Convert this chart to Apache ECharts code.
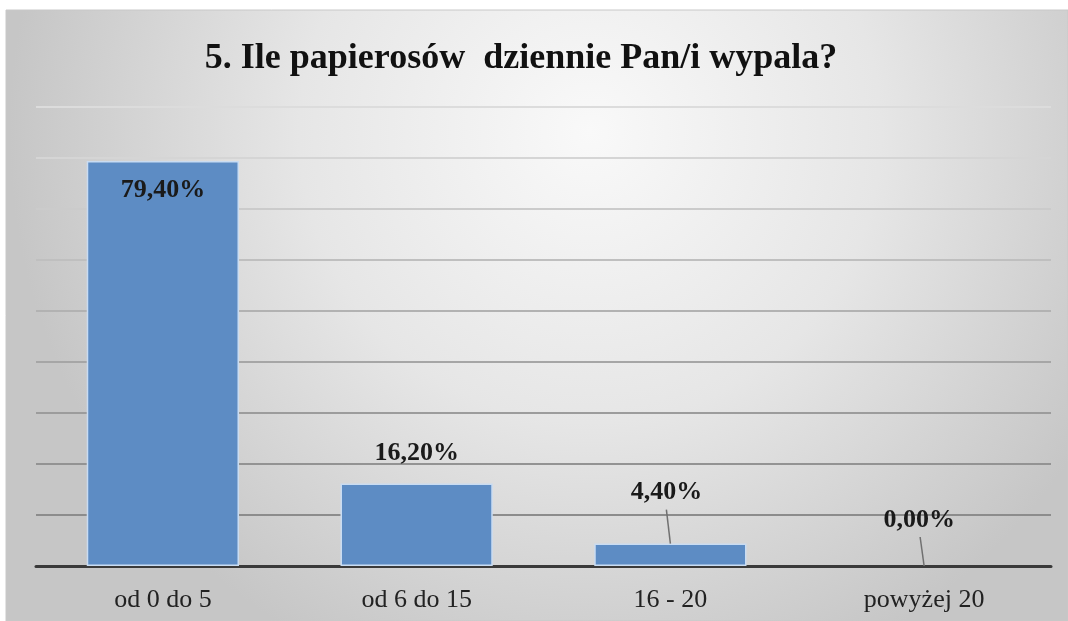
<!DOCTYPE html>
<html>
<head>
<meta charset="utf-8">
<script src="https://cdn.jsdelivr.net/npm/echarts@6/dist/echarts.min.js"></script>
<style>
html,body{margin:0;padding:0;background:#fff;}
#chart{width:1068px;height:621px;}
</style>
</head>
<body>
<div id="chart"></div>
<script>
const titleText = '5. Ile papierosów  dziennie Pan/i wypala?';
const categories = ['od 0 do 5', 'od 6 do 15', '16 - 20', 'powyżej 20'];
const values = [79.4, 16.2, 4.4, 0.0];
const valueLabels = ['79,40%', '16,20%', '4,40%', '0,00%'];
const yMin = 0, yMax = 90, yInterval = 10;

const serif = '"Liberation Serif", "DejaVu Serif", serif';
const labelBase = {show: true, fontFamily: serif, fontWeight: 'bold', fontSize: 26, lineHeight: 26, color: '#1a1a1a'};
const labelCfg = [
  {position: 'insideTop', distance: 16},
  {position: 'top', distance: 17},
  {position: 'top', distance: 38, offset: [-4, 0]},
  {position: 'top', distance: 33, offset: [-5, 0]}
];
// leader-line styling: [pixel rise, pixel x shift]
const leaderStyle = {2: [34, -4], 3: [29, -4]};

const chart = echarts.init(document.getElementById('chart'), null, {renderer: 'canvas'});
chart.setOption({
  animation: false,
  graphic: [{
    type: 'rect', z: -10, silent: true,
    shape: {x: 6, y: 10, width: 1062, height: 611},
    style: {
      fill: {type: 'radial', x: 0.55, y: 0.2, r: 0.95, colorStops: [
        {offset: 0, color: '#f9f9f9'}, {offset: 0.5, color: '#e6e6e6'}, {offset: 1, color: '#c6c6c6'}
      ]},
      stroke: '#c8c8c8', lineWidth: 1
    }
  }],
  title: {
    text: titleText, left: 516, top: 36, textAlign: 'center',
    textStyle: {fontFamily: serif, fontWeight: 'bold', fontSize: 36, color: '#111'}
  },
  grid: {left: 36, right: 17, top: 107, bottom: 55, containLabel: false},
  xAxis: {
    type: 'category', data: categories,
    axisLine: {show: true, lineStyle: {color: '#3a3a3a', width: 3}},
    axisTick: {show: false},
    axisLabel: {fontFamily: serif, fontSize: 26, lineHeight: 26, color: '#222', margin: 21}
  },
  yAxis: {
    type: 'value', min: yMin, max: yMax, interval: yInterval,
    axisLabel: {show: false}, axisLine: {show: false}, axisTick: {show: false},
    splitLine: {show: true, lineStyle: {width: 2, color: ['#888', '#8c8c8c', '#939393', '#9c9c9c', '#a6a6a6', '#b2b2b2', '#bfbfbf', '#cbcbcb', '#d5d5d5', '#dcdcdc']}}
  },
  series: [{
    type: 'bar', barWidth: '60%',
    itemStyle: {color: '#5d8cc4', borderColor: '#c9dcf2', borderWidth: 1.5},
    data: values.map((v, i) => ({
      value: v,
      itemStyle: v === 0 ? {borderWidth: 0} : undefined,
      label: Object.assign({}, labelBase, labelCfg[i], {formatter: valueLabels[i]})
    }))
  }, {
    type: 'custom', z: 5, silent: true,
    data: values.map((v, i) => [i, v]).filter(d => leaderStyle[d[0]]),
    encode: {x: 0, y: 1},
    renderItem: function (params, api) {
      const idx = api.value(0);
      const p = api.coord([idx, api.value(1)]);
      const s = leaderStyle[idx];
      return {
        type: 'line',
        shape: {x1: p[0], y1: p[1], x2: p[0] + s[1], y2: p[1] - s[0]},
        style: {stroke: '#707070', lineWidth: 1.5}
      };
    }
  }]
});
</script>
</body>
</html>
